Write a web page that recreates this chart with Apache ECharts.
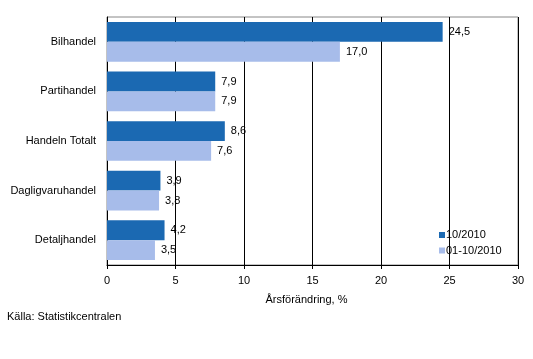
<!DOCTYPE html>
<html>
<head>
<meta charset="utf-8">
<script src="https://cdn.jsdelivr.net/npm/echarts@6/dist/echarts.min.js"></script>
<style>html,body{margin:0;padding:0;background:#fff}#c{width:533px;height:359px}</style>
</head>
<body>
<div id="c"></div>
<script>
const categories = ['Bilhandel', 'Partihandel', 'Handeln Totalt', 'Dagligvaruhandel', 'Detaljhandel'];
const seriesNames = ['10/2010', '01-10/2010'];
const values1 = [24.5, 7.9, 8.6, 3.9, 4.2];
const values2 = [17.0, 7.9, 7.6, 3.8, 3.5];
const xTicks = [0, 5, 10, 15, 20, 25, 30];

const font = 'Liberation Sans, Arial, sans-serif';
const chart = echarts.init(document.getElementById('c'));
const fmt = p => p.value.toFixed(1).replace('.', ',');
chart.setOption({
  animation: false,
  textStyle: { fontFamily: font },
  grid: { left: 107, right: 15, top: 17, bottom: 94, show: true, borderColor: '#888', borderWidth: 1 },
  xAxis: {
    type: 'value', min: xTicks[0], max: xTicks[xTicks.length - 1], interval: 5,
    axisLine: { show: true, lineStyle: { color: '#000' } },
    axisTick: { show: true, length: 4, lineStyle: { color: '#000' } },
    splitLine: { show: true, lineStyle: { color: '#000' } },
    axisLabel: { color: '#000', fontSize: 11, margin: 10, fontFamily: font },
    name: 'Årsförändring, %', nameLocation: 'middle', nameGap: 29,
    nameTextStyle: { color: '#000', fontSize: 11, fontFamily: font, padding: [0, 12, 0, 0] }
  },
  yAxis: {
    type: 'category', data: categories, inverse: true,
    axisLine: { show: true, lineStyle: { color: '#000' } },
    axisTick: { show: false },
    axisLabel: { color: '#000', fontSize: 11, margin: 11, fontFamily: font }
  },
  legend: {
    orient: 'vertical', left: 439, top: 229.5, padding: 0, itemWidth: 6, itemHeight: 6, itemGap: 4.5,
    icon: 'rect', textStyle: { color: '#000', fontSize: 11, fontFamily: font, padding: [0,0,0,-4] },
    data: seriesNames
  },
  graphic: [{ type: 'text', left: 7, top: 311, style: { text: 'Källa: Statistikcentralen', fill: '#000', font: '11px ' + font } }],
  series: [
    { name: seriesNames[0], type: 'bar', data: values1, itemStyle: { color: '#1B69B2' }, barGap: '0%', barCategoryGap: '20%',
      label: { show: true, position: 'right', distance: 6, color: '#000', fontSize: 11, fontFamily: font, formatter: fmt } },
    { name: seriesNames[1], type: 'bar', data: values2, itemStyle: { color: '#A7BCEA' },
      label: { show: true, position: 'right', distance: 6, color: '#000', fontSize: 11, fontFamily: font, formatter: fmt } }
  ]
});
</script>
</body>
</html>
